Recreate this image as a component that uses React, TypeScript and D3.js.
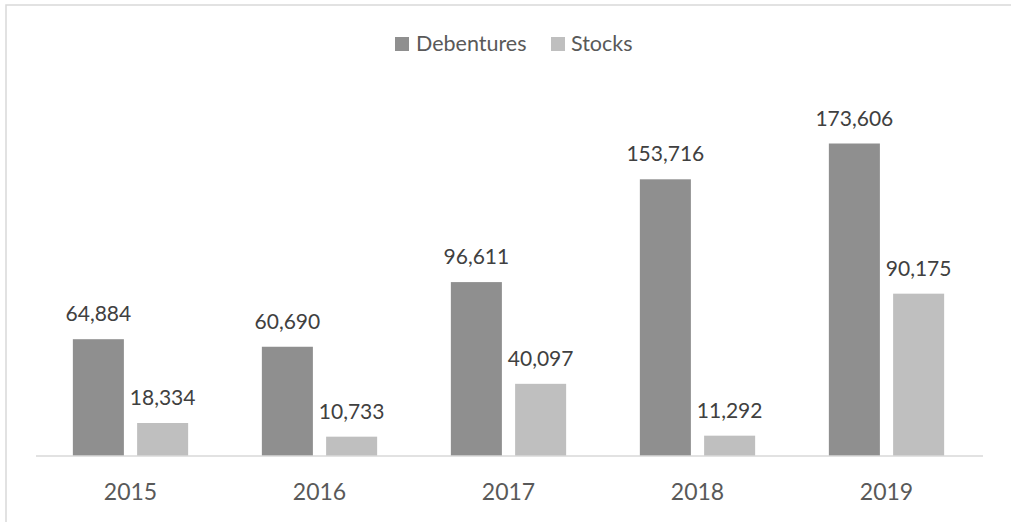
import React from "react";
import * as d3 from "d3";

const years = ["2015", "2016", "2017", "2018", "2019"];
const debentures = [64884, 60690, 96611, 153716, 173606];
const stocks = [18334, 10733, 40097, 11292, 90175];
const seriesNames = ["Debentures", "Stocks"];
const seriesColors = ["#8f8f8f", "#bfbfbf"];

const W = 1011;
const H = 522;
const FONT = "Lato, 'Open Sans', sans-serif";

export default function App() {
  const x = d3.scaleBand().domain(years).range([36, 981]).paddingInner(0).paddingOuter(0);
  const y = d3.scaleLinear().domain([0, 173606]).range([456, 143.5]);
  const step = x.step();
  const barW = step * 0.27;
  const gap = step * 0.07;
  const fmt = d3.format(",");
  const series = [debentures, stocks];

  return (
    <svg width={W} height={H} style={{ position: "absolute", left: 0, top: 0 }}>
      <rect x={0} y={0} width={W} height={H} fill="#fff" />
      <rect x={6} y={5} width={W + 10} height={H + 10} fill="none" stroke="#d9d9d9" strokeWidth={1.5} />
      {/* legend */}
      <g fontFamily={FONT} fontSize={21.5} fill="#595959">
        <rect x={395} y={37} width={14} height={14} fill={seriesColors[0]} />
        <text x={416} y={51}>{seriesNames[0]}</text>
        <rect x={551} y={37} width={14} height={14} fill={seriesColors[1]} />
        <text x={571} y={51}>{seriesNames[1]}</text>
      </g>
      {years.map((yr, i) => {
        const c = (x(yr) as number) + step / 2;
        return (
          <g key={yr}>
            {series.map((s, k) => {
              const bx = k === 0 ? c - gap / 2 - barW : c + gap / 2;
              const top = y(s[i]);
              return (
                <g key={k}>
                  <rect x={bx} y={top} width={barW} height={y(0) - top} fill={seriesColors[k]} />
                  <text
                    x={bx + barW / 2}
                    y={top - 18}
                    textAnchor="middle"
                    fontFamily={FONT}
                    fontSize={21}
                    fill="#404040"
                  >
                    {fmt(s[i])}
                  </text>
                </g>
              );
            })}
            <text x={c} y={500} textAnchor="middle" fontFamily={FONT} fontSize={23} fill="#595959">
              {yr}
            </text>
          </g>
        );
      })}
      <line x1={36} x2={983} y1={456} y2={456} stroke="#d9d9d9" strokeWidth={1.5} />
    </svg>
  );
}
